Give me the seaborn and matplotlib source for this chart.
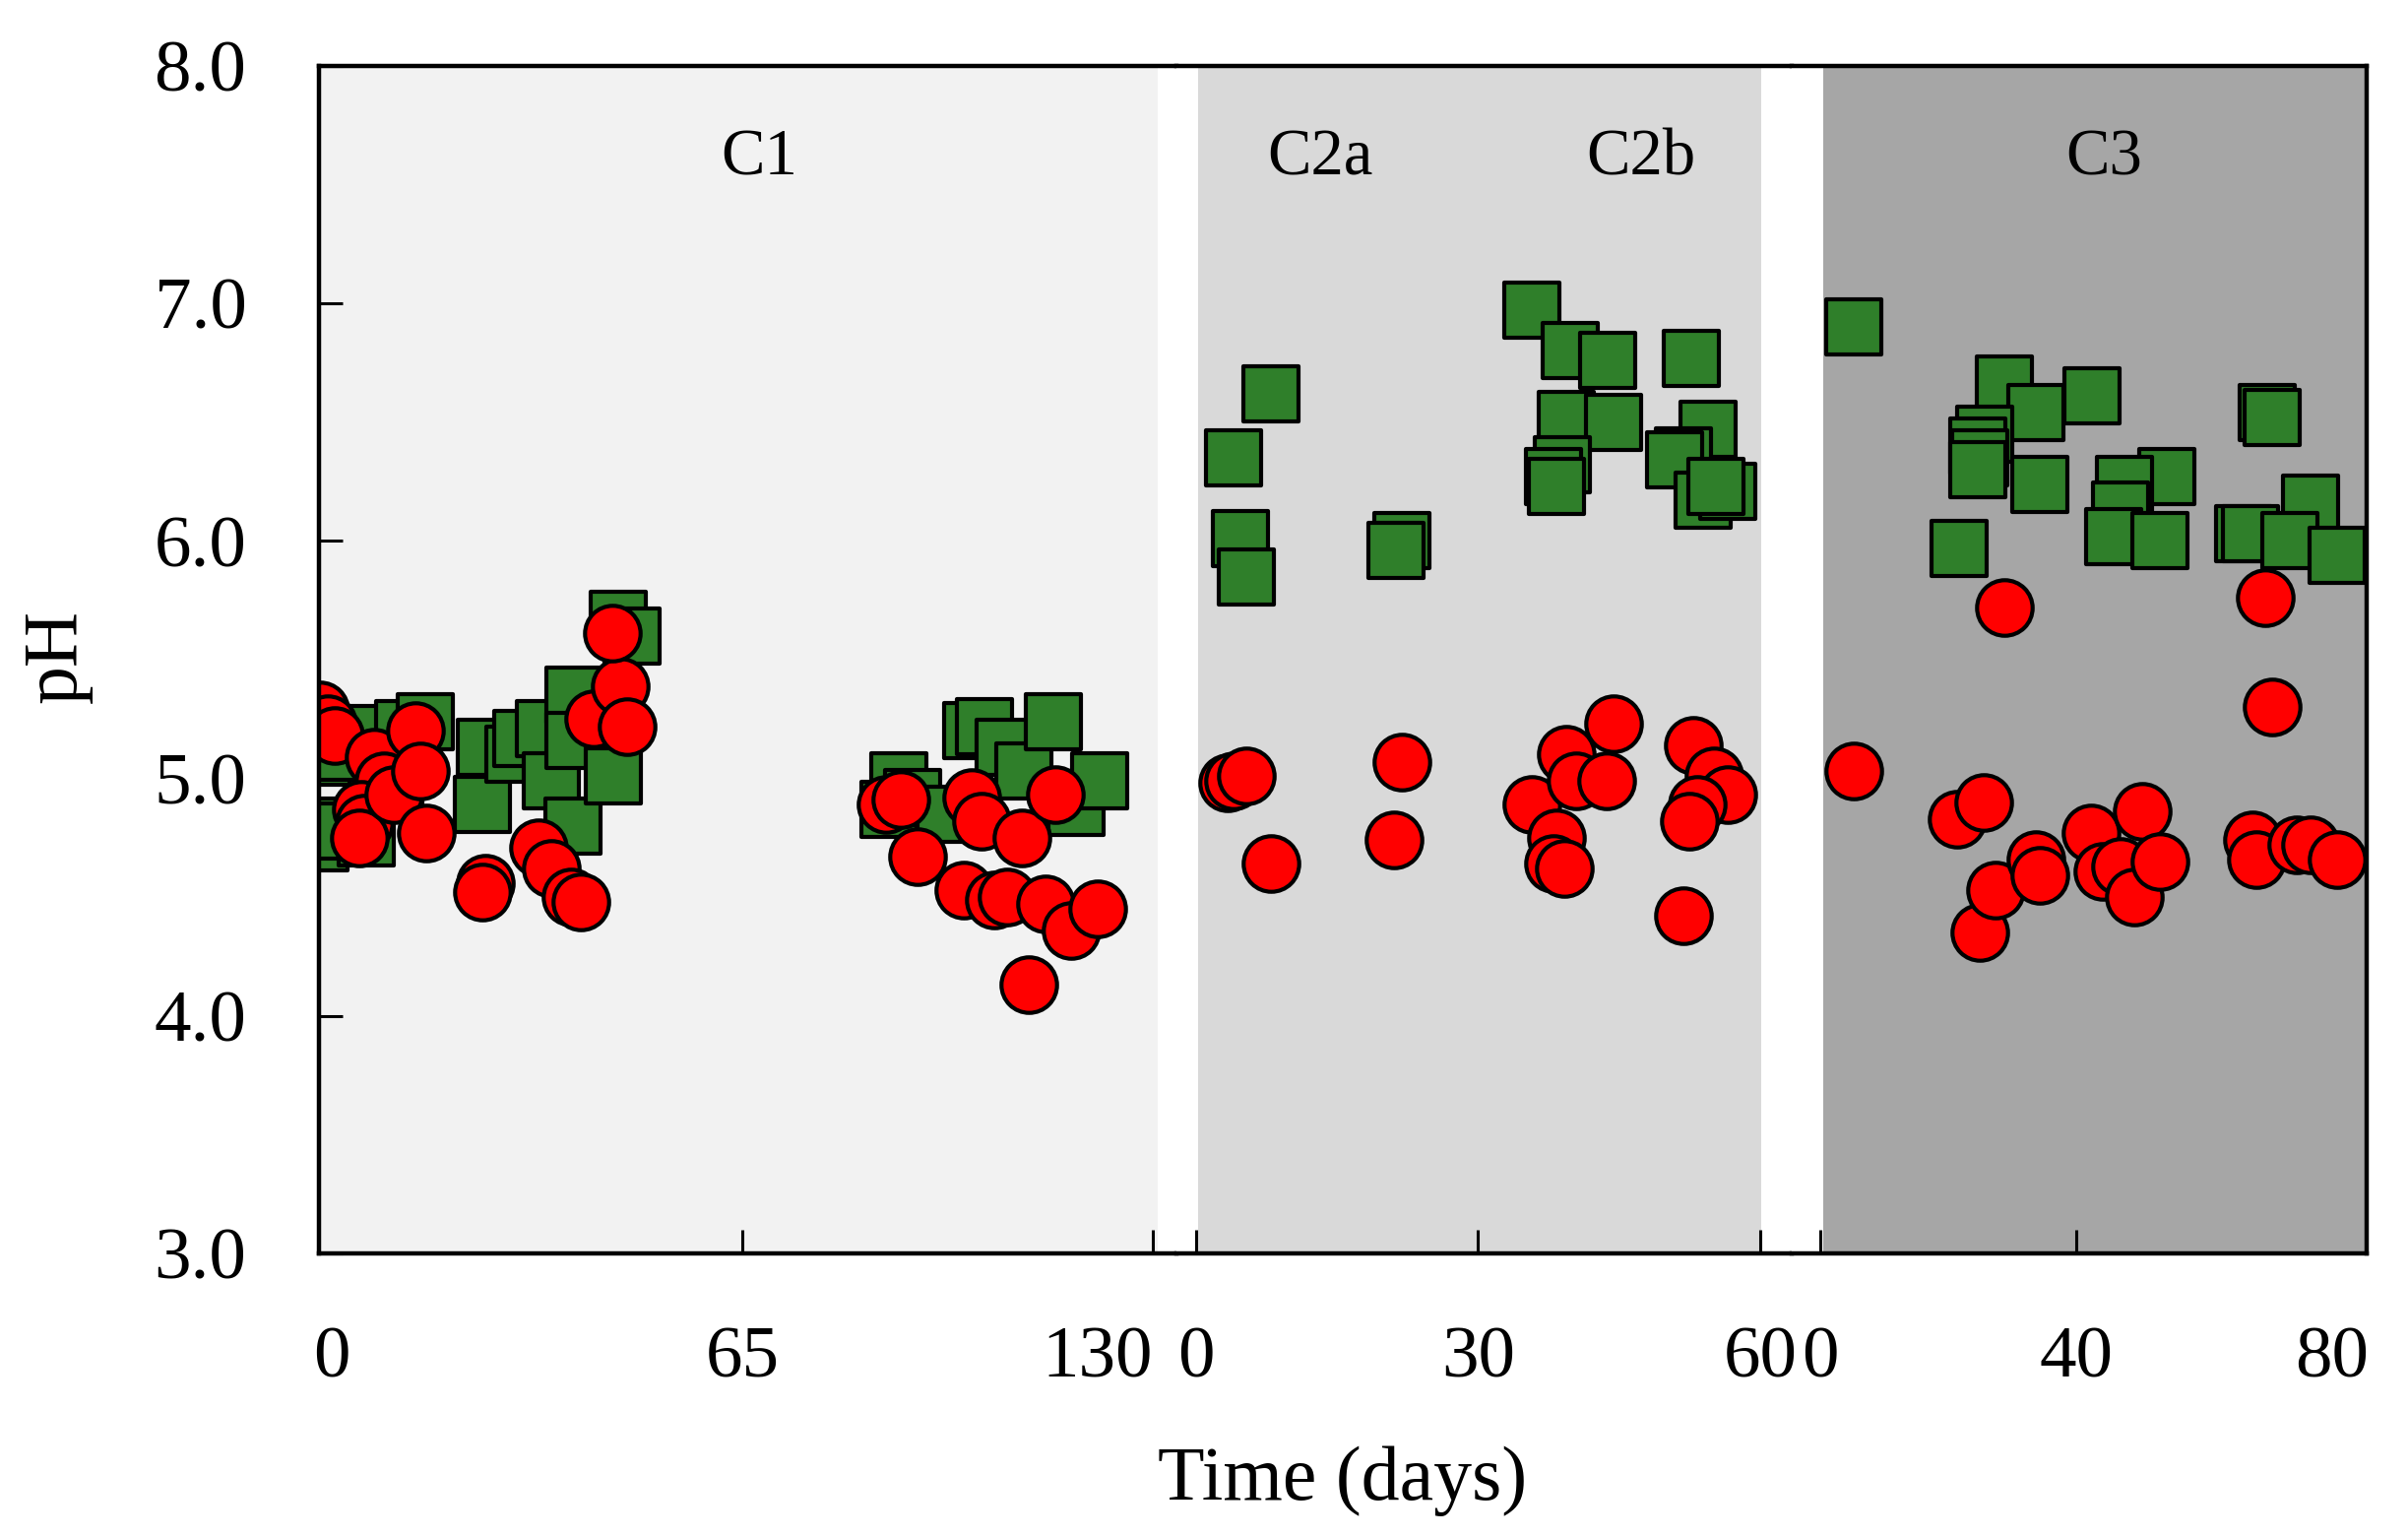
import matplotlib
matplotlib.use("Agg")
import matplotlib.pyplot as plt
import seaborn as sns
import pandas as pd

# ---------------- data ----------------
# Period C1 (days 0-130)
c1_sq_day = [-1.9, -0.6, -1.6, -0.3, 1.0, 5.5, 5.9, 11.4, 14.8, 10.0, 24.3, 23.8, 28.9, 30.1,
             33.7, 34.8, 38.2, 38.3, 38.3, 44.6, 45.4, 47.5,
             88.2, 89.8, 92.0, 97.1, 101.3, 103.4, 106.5, 109.6, 114.3, 117.9, 121.6]
c1_sq_ph = [4.73, 4.80, 5.09, 5.11, 4.78, 4.75, 5.19, 5.21, 5.24, 4.95, 5.13, 4.89, 5.10, 5.17,
            5.21, 4.99, 4.80, 5.35, 5.16, 5.01, 5.67, 5.60,
            4.87, 4.99, 4.92, 4.85, 5.20, 5.22, 5.13, 5.03, 5.24, 4.88, 4.99]
c1_ci_day = [-1.9, -0.6, 0.5, 6.7, 8.3, 4.7, 5.1, 4.4, 9.8, 13.3, 14.0, 15.0, 24.3, 23.9, 32.7,
             34.8, 37.9, 39.4, 41.5, 45.7, 46.8, 44.4,
             87.8, 90.1, 92.8, 101.3, 102.9, 109.3, 114.6, 100.0, 104.9, 106.9, 113.0, 117.1,
             121.3, 110.4]
c1_ci_ph = [5.29, 5.23, 5.18, 5.09, 4.99, 4.87, 4.81, 4.75, 4.93, 5.20, 5.03, 4.77, 4.56, 4.52,
            4.71, 4.62, 4.50, 4.48, 5.25, 5.39, 5.22, 5.61,
            4.89, 4.91, 4.67, 4.92, 4.82, 4.75, 4.93, 4.53, 4.49, 4.50, 4.47, 4.36,
            4.45, 4.13]

# Period C2 (days 0-60)
c2_sq_day = [8.0, 4.0, 4.7, 5.3, 21.9, 21.3, 35.7, 39.8, 43.8, 39.4, 44.4, 39.0, 38.0, 38.3,
             52.7, 54.4, 51.8, 50.9, 53.9, 56.5, 55.3]
c2_sq_ph = [6.62, 6.35, 6.01, 5.85, 6.00, 5.96, 6.97, 6.80, 6.76, 6.51, 6.50, 6.32, 6.27, 6.23,
            6.77, 6.47, 6.36, 6.34, 6.17, 6.21, 6.23]
c2_ci_day = [3.4, 4.0, 5.3, 8.0, 21.9, 21.1, 35.7, 39.4, 44.4, 40.4, 43.7, 38.3, 38.0, 39.2,
             52.9, 55.1, 56.5, 53.3, 52.5, 51.8]
c2_ci_ph = [4.98, 4.99, 5.01, 4.64, 5.07, 4.74, 4.89, 5.10, 5.23, 4.99, 4.99, 4.75, 4.64, 4.62,
            5.14, 5.01, 4.93, 4.89, 4.82, 4.42]

# Period C3 (days 0-80)
c3_sq_day = [5.2, 28.8, 33.7, 42.5, 25.7, 24.6, 24.9, 24.6, 34.3, 21.7, 69.8, 70.6, 54.2, 47.5,
             46.9, 45.9, 53.0, 76.6, 66.2, 67.2, 73.4, 80.8]
c3_sq_ph = [6.90, 6.66, 6.54, 6.61, 6.45, 6.40, 6.35, 6.30, 6.24, 5.97, 6.54, 6.52, 6.27, 6.24,
            6.13, 6.02, 6.00, 6.16, 6.03, 6.03, 6.00, 5.94]
c3_ci_day = [28.8, 69.6, 70.6, 5.2, 21.4, 25.5, 24.9, 27.4, 33.7, 34.3, 42.3, 50.3, 44.2, 46.9,
             49.1, 53.0, 67.5, 68.1, 74.5, 76.6, 80.8]
c3_ci_ph = [5.72, 5.76, 5.30, 5.03, 4.83, 4.90, 4.35, 4.53, 4.66, 4.59, 4.77, 4.86, 4.61, 4.63,
            4.50, 4.65, 4.74, 4.66, 4.72, 4.72, 4.66]

period_labels = ["C1", "C2a", "C2b", "C3"]
c1_ticks = [0, 65, 130]
c2_ticks = [0, 30, 60]
c3_ticks = [0, 40, 80]
y_ticks = [3.0, 4.0, 5.0, 6.0, 7.0, 8.0]

# ---------------- styling ----------------
sns.set_theme(style="white")
plt.rcParams["font.family"] = ["Liberation Serif", "DejaVu Serif"]
plt.rcParams["text.color"] = "black"
plt.rcParams["axes.labelcolor"] = "black"
plt.rcParams["xtick.color"] = "black"
plt.rcParams["ytick.color"] = "black"

GREEN = "#2f7f2a"
RED = "#ff0000"
MS = 1650
EW = 3.0
TICK_FS = 54
SPINE_W = 3.2

fig = plt.figure(figsize=(24.46, 15.6), dpi=100)
gs = fig.add_gridspec(1, 3, width_ratios=[871, 625, 584], wspace=0,
                      left=324 / 2446, right=2404 / 2446,
                      top=1 - 67 / 1560, bottom=1 - 1273 / 1560)
ax1 = fig.add_subplot(gs[0, 0])
ax2 = fig.add_subplot(gs[0, 1], sharey=ax1)
ax3 = fig.add_subplot(gs[0, 2], sharey=ax1)

panels = [
    (ax1, c1_sq_day, c1_sq_ph, c1_ci_day, c1_ci_ph, (-2.03, 133.74), c1_ticks, (-2.03, 130.8), "#f2f2f2"),
    (ax2, c2_sq_day, c2_sq_ph, c2_ci_day, c2_ci_ph, (-2.09, 63.35), c2_ticks, (0.2, 60.1), "#d9d9d9"),
    (ax3, c3_sq_day, c3_sq_ph, c3_ci_day, c3_ci_ph, (-4.46, 85.38), c3_ticks, (0.46, 85.38), "#a6a6a6"),
]

for ax, sqd, sqp, cid, cip, xl, ticks, span, bg in panels:
    ax.set_facecolor("white")
    ax.axvspan(span[0], span[1], color=bg, lw=0, zorder=0)
    sq = pd.DataFrame({"day": sqd, "pH": sqp})
    ci = pd.DataFrame({"day": cid, "pH": cip})
    sns.scatterplot(data=sq, x="day", y="pH", ax=ax, marker="s", s=MS, color=GREEN,
                    edgecolor="black", linewidth=EW, legend=False, zorder=3)
    sns.scatterplot(data=ci, x="day", y="pH", ax=ax, marker="o", s=MS, color=RED,
                    edgecolor="black", linewidth=EW, legend=False, zorder=4)
    ax.set_xlim(*xl)
    ax.set_ylim(3.0, 8.0)
    ax.set_xticks(ticks)
    ax.set_xticklabels([str(t) for t in ticks])
    ax.set_xlabel("")
    ax.set_ylabel("")
    ax.tick_params(axis="x", direction="in", length=17, width=2.2, pad=53,
                   labelsize=TICK_FS, colors="black", bottom=True, top=False)
    for sp in ax.spines.values():
        sp.set_linewidth(SPINE_W)
        sp.set_color("black")
        sp.set_zorder(6)

# y axis only on first panel
ax1.set_yticks(y_ticks)
ax1.set_yticklabels([f"{v:.1f}" for v in y_ticks])
ax1.tick_params(axis="y", direction="in", length=17, width=2.2, pad=53,
                labelsize=TICK_FS, colors="black", left=True, right=False)
for ax in (ax2, ax3):
    ax.tick_params(axis="y", left=False, right=False, labelleft=False)

ax1.spines["right"].set_visible(False)
ax2.spines["left"].set_visible(False)
ax2.spines["right"].set_visible(False)
ax3.spines["left"].set_visible(False)

# tick-line tweaks: no visible tick at C1 day 0 or C3 day 80
ax1.xaxis.get_major_ticks()[0].tick1line.set_visible(False)
ax3.xaxis.get_major_ticks()[-1].tick1line.set_visible(False)
ax1.get_xticklabels()[-1].set_horizontalalignment("right")

# period labels
LAB_FS = 48
ax1.text(67.7, 7.54, period_labels[0], ha="center", va="baseline", fontsize=LAB_FS,
         color="black", zorder=5)
ax2.text(13.2, 7.54, period_labels[1], ha="center", va="baseline", fontsize=LAB_FS,
         color="black", zorder=5)
ax2.text(47.3, 7.54, period_labels[2], ha="center", va="baseline", fontsize=LAB_FS,
         color="black", zorder=5)
ax3.text(44.3, 7.54, period_labels[3], ha="center", va="baseline", fontsize=LAB_FS,
         color="black", zorder=5)

# axis titles
fig.text(1364 / 2446, 1 - 1523 / 1560, "Time (days)", ha="center", va="baseline",
         fontsize=56, color="black")
fig.text(58 / 2446, 1 - 666 / 1560, "pH", ha="center", va="center", rotation=90,
         fontsize=56, color="black")

fig.savefig("out.png", dpi=100, facecolor="white")
